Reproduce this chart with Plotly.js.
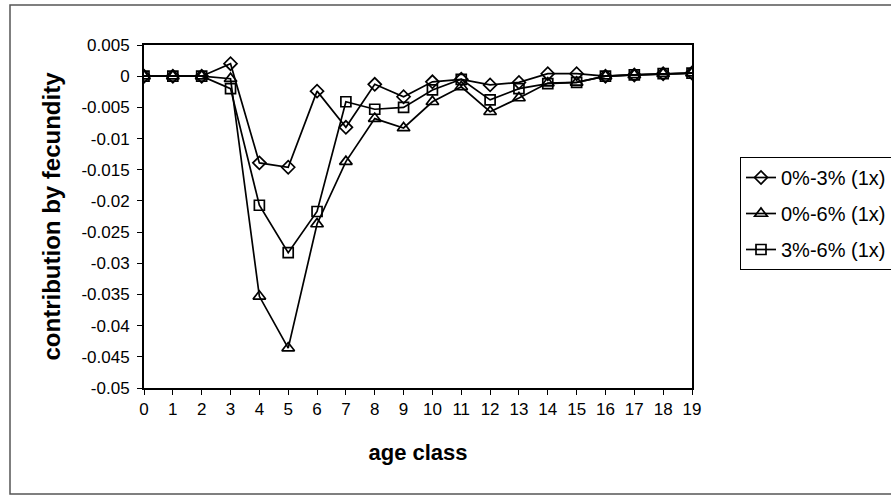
<!DOCTYPE html>
<html>
<head>
<meta charset="utf-8">
<script src="https://cdn.plot.ly/plotly-3.0.1.min.js"></script>
<style>html,body{margin:0;padding:0;background:#fff}#chart{width:891px;height:496px}</style>
</head>
<body>
<div id="chart"></div>
<script>
const ageClass = [0,1,2,3,4,5,6,7,8,9,10,11,12,13,14,15,16,17,18,19];
const seriesNames = ["0%-3% (1x)", "0%-6% (1x)", "3%-6% (1x)"];
const series03 = [0,0,0,0.002,-0.0139,-0.0146,-0.0024,-0.0082,-0.0013,-0.0033,-0.0009,-0.0005,-0.0014,-0.001,0.0004,0.0004,0,0.0002,0.0004,0.0005];
const series06 = [0,0,0,-0.0004,-0.0353,-0.0436,-0.0237,-0.0137,-0.0068,-0.0083,-0.0041,-0.0017,-0.0057,-0.0035,-0.0011,-0.001,0,0.0002,0.0004,0.0005];
const series36 = [0,0,0,-0.002,-0.0207,-0.0283,-0.0217,-0.0041,-0.0053,-0.005,-0.0022,-0.0005,-0.0038,-0.002,-0.0012,-0.001,0,0.0002,0.0004,0.0005];
const yTickValues = [0.005,0,-0.005,-0.01,-0.015,-0.02,-0.025,-0.03,-0.035,-0.04,-0.045,-0.05];
const yTickLabels = ["0.005","0","-0.005","-0.01","-0.015","-0.02","-0.025","-0.03","-0.035","-0.04","-0.045","-0.05"];
const xTickLabels = ageClass.map(String);

const FONT = "Liberation Sans, Arial, sans-serif";
const symbols = ["diamond-open", "triangle-up-open", "square-open"];
const sizes = [10, 11, 10];
const allSeries = [series03, series06, series36];

const traces = allSeries.map((ys, i) => ({
  x: ageClass, y: ys, type: "scatter", mode: "lines+markers",
  name: seriesNames[i], legendgroup: "g" + i,
  line: {color: "#000", width: 1.7},
  marker: {symbol: symbols[i], size: sizes[i], color: "#000", line: {color: "#000", width: 1.7}}
}));

const L = 144, R = 692, T = 45, B = 388;
const pw = R - L, ph = B - T;
const px = v => (v - L) / pw;
const py = v => (B - v) / ph;

const layout = {
  width: 891, height: 496,
  margin: {l: L, r: 891 - R, t: T, b: 496 - B, autoexpand: false},
  paper_bgcolor: "#fff", plot_bgcolor: "#fff",
  font: {family: FONT, color: "#000", size: 17},
  showlegend: true,
  xaxis: {
    range: [0, 19], tickvals: ageClass, ticktext: xTickLabels,
    showgrid: false, zeroline: false,
    showline: true, mirror: true, linecolor: "#000", linewidth: 2,
    ticks: "outside", ticklen: 5, tickwidth: 1, tickcolor: "#000",
    tickfont: {family: FONT, size: 17, color: "#000"},
    title: {text: "<b>age class</b>", font: {family: FONT, size: 22, color: "#000"}, standoff: 26}
  },
  yaxis: {
    range: [-0.05, 0.005], tickvals: yTickValues, ticktext: yTickLabels,
    showgrid: false, zeroline: false,
    showline: true, mirror: true, linecolor: "#000", linewidth: 2,
    ticks: "outside", ticklen: 5, tickwidth: 1, tickcolor: "#000",
    tickfont: {family: FONT, size: 17, color: "#000"},
    ticklabelstandoff: 4,
    title: {text: "<b>contribution by fecundity</b>", font: {family: FONT, size: 24, color: "#000"}, standoff: 14}
  },
  legend: {
    x: px(740), y: py(157), xanchor: "left", yanchor: "top",
    bgcolor: "#fff", bordercolor: "#000", borderwidth: 1,
    font: {family: FONT, size: 20, color: "#000"},
    tracegroupgap: 7, traceorder: "grouped"
  },
  shapes: [{
    type: "rect", xref: "paper", yref: "paper", layer: "below",
    x0: px(10), x1: px(900), y0: py(494), y1: py(5),
    line: {color: "#555", width: 1.5}, fillcolor: "rgba(0,0,0,0)"
  }]
};

Plotly.newPlot("chart", traces, layout, {displayModeBar: false, staticPlot: true});
</script>
</body>
</html>
